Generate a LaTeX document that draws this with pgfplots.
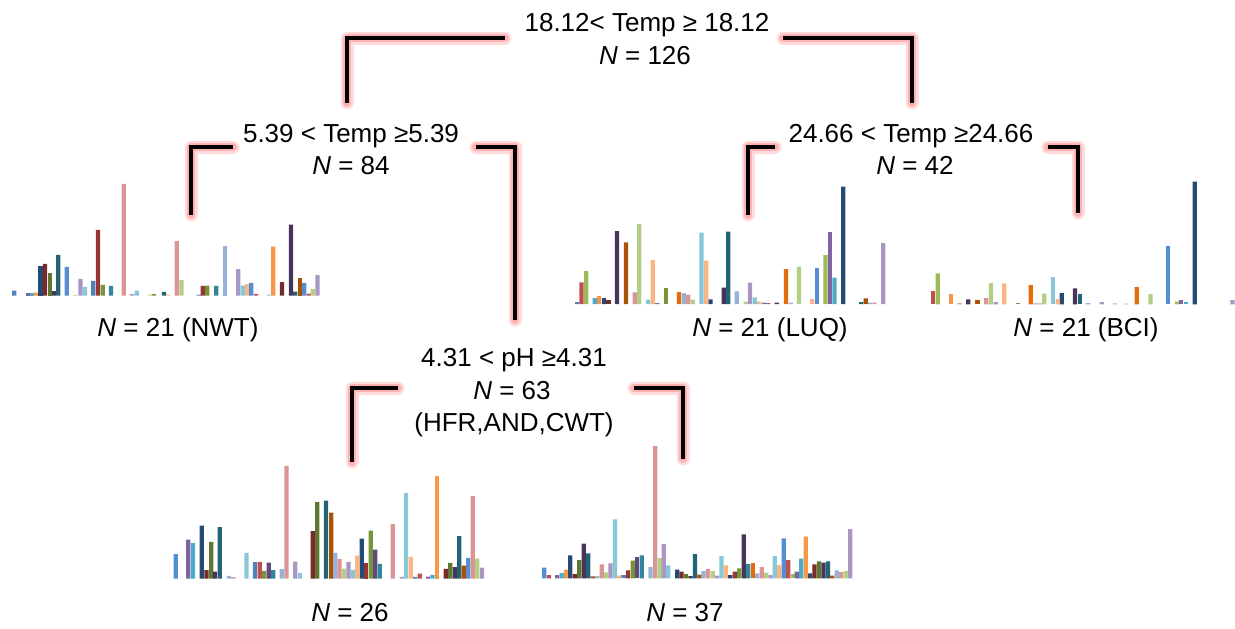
\documentclass[border=0pt]{standalone}
\usepackage{fontspec}
\setmainfont{Liberation Sans}
\usepackage{pgfplots}
\usepackage{pgfplotstable}
\pgfplotsset{compat=1.18}

% bar colours (Excel-like series palette)
\definecolor{c1}{HTML}{4F81BD}
\definecolor{c2}{HTML}{C0504D}
\definecolor{c3}{HTML}{9BBB59}
\definecolor{c4}{HTML}{8064A2}
\definecolor{c5}{HTML}{4BACC6}
\definecolor{c6}{HTML}{F79646}
\definecolor{c7}{HTML}{254A75}
\definecolor{c8}{HTML}{772C2A}
\definecolor{c9}{HTML}{5F7530}
\definecolor{c10}{HTML}{453659}
\definecolor{c11}{HTML}{246275}
\definecolor{c12}{HTML}{A85208}
\definecolor{c13}{HTML}{95B3D7}
\definecolor{c14}{HTML}{D99694}
\definecolor{c15}{HTML}{B5CE85}
\definecolor{c16}{HTML}{A996C2}
\definecolor{c17}{HTML}{86C7DA}
\definecolor{c18}{HTML}{FAB580}
\definecolor{c19}{HTML}{558ED5}
\definecolor{c20}{HTML}{953735}
\definecolor{c21}{HTML}{77933C}
\definecolor{c22}{HTML}{604A7B}
\definecolor{c23}{HTML}{31859C}
\definecolor{c24}{HTML}{E46C0A}

% x = bar centre (image px), h = bar height (px), c = colour class
\pgfplotstableread{
x h c
14.3 5 1
27.7 3 4
31.7 3 5
35.7 3 6
40.5 30 7
45 31.7 8
49.7 22.3 9
54 4.3 10
58.3 40.7 11
66.8 28.7 19
75.5 0.7 15
80.5 16.7 16
85 8.7 17
93.3 14.7 1
98 65.7 20
102.7 10.7 21
111 9.7 23
123.7 111.7 14
132 1.3 16
136.7 5 17
150 1 15
154 1.3 21
164 3.7 11
168.3 1 18
176.8 54.3 14
181.5 15.7 15
198.7 1 1
202.8 9.7 20
207.3 10 21
216.2 9.7 23
225.3 49.3 13
238.3 26.3 16
242.8 10 17
247 11.3 18
251.3 12.7 19
256 1.7 2
268.7 1 17
273.3 49 6
282 13.3 8
291 71 10
295.3 4 11
299.7 17.7 12
304.3 12.7 19
308.7 2 2
312.8 6.7 15
317.5 20.3 16
}\leafA

\pgfplotstableread{
x h c
577.2 2 1
581.5 21.7 2
586.2 33 3
594.7 6 5
599.2 7.7 6
604 6 7
608.5 4 8
617 73 10
626 61.7 12
634.8 11.7 14
639.3 80 15
648.2 4.3 17
652.7 44 18
657.2 1 1
666.2 16.3 21
679 12 24
683.7 11 13
688.3 9.3 14
692.8 4.3 15
701.5 71.3 17
706.2 43.3 18
710.5 4.7 7
723.7 16.3 10
728.2 72.3 11
736.8 12.7 13
745.7 2.3 15
750 21.3 16
754.7 6.7 17
759.3 2.3 18
764 1.3 1
768.3 1 2
776.7 1.3 10
786 35 24
790.7 1.3 13
799 37.3 15
812.2 5 18
816.8 36.3 19
825.5 49 3
830 71.7 4
834.5 26.3 5
843.3 117.3 7
861.2 2 11
865.7 5.7 12
870.2 1.3 13
874.5 1.3 14
883.3 61 16
}\leafB

\pgfplotstableread{
x h c
933 13.3 2
937.7 31 3
950.8 10.3 6
959.5 1.3 14
968.3 5 10
977.5 4.7 12
986.3 6.3 14
991 21.3 15
995.7 2.3 16
1004.3 21 18
1017.7 1 21
1030.8 19.3 24
1035.5 1 16
1039.8 1 14
1044.3 10.7 15
1053.2 27.7 17
1057.7 5.3 18
1061.8 11.3 7
1075 16 10
1080 10 11
1088 1.3 13
1101.7 2.3 16
1115 1 13
1126 0.7 16
1136.8 17.3 24
1150.5 10.3 15
1168.2 58.7 19
1177 2.7 3
1181.3 4 4
1186 2.7 5
1194.8 122.7 7
1232.5 4.3 16
}\leafC

\pgfplotstableread{
x h c
175.7 24.3 19
188.3 39 4
193 35.3 5
201.8 53 7
206.5 8.3 8
211.2 36.7 9
215 7 10
219.7 51.3 11
228.7 2.7 13
233.3 1.3 14
246.5 25.7 17
255 16.3 1
259.7 16.7 2
264.2 7.7 21
268.7 16 22
273.2 8.3 23
281.7 9.3 13
286.5 112.7 14
295.3 17 16
300 5.3 17
312.7 47.3 8
317.3 76.3 9
326 78 11
331.2 66 12
335.3 25.7 13
339.5 19.3 14
344 10 15
348.5 16.7 16
352.8 8.7 17
357.2 23 18
361.7 40 7
366.2 15.7 20
370.7 48 21
375.3 29 22
379.8 14.7 23
392.8 54.3 14
401.8 1.7 16
406 85.3 17
410.7 21.7 18
415.2 1.7 1
419.7 5 2
428.2 2 4
432.5 3.7 5
437.3 102.3 6
445.7 9.7 8
450.3 15.7 9
454.8 11.3 10
459.3 42.3 11
463.8 13 12
468.2 20.7 19
472.7 82.3 14
477.3 20 15
482 11 16
}\leafD

\pgfplotstableread{
x h c
544.2 10.7 19
548.8 3.3 2
557.2 3.3 4
561.7 5.3 5
566 8.7 6
570.3 23 7
574.8 4.3 8
579.2 18.3 9
583.7 34.7 10
588.3 25 11
592.8 2 12
597.2 2.3 13
601.7 14 14
606.2 6 15
610.5 15 16
615 59 17
619.3 2.7 18
623.5 3.3 1
628 8 20
632.7 17.7 21
637.2 21 22
641.7 23 23
650.5 11.3 13
655.2 132.3 14
659.7 20.3 15
663.8 34.3 16
668.2 13 17
677.2 8.7 7
681.5 6.7 8
686 4.3 9
690.5 2.3 10
695 24.3 11
699.4 3.7 12
703.5 7.3 13
708 9.3 14
712.7 7.3 15
717.2 2.7 16
721.5 22.3 17
725.8 13 18
730.2 3.3 7
734.7 6.7 20
739.2 10 21
743.7 44 10
748.2 14.3 23
752.7 15.3 24
757.2 5 13
761.7 11.3 14
766.2 5.7 15
770.5 3.3 16
774.8 22.3 17
779.2 13.3 18
783.7 40 19
788.3 18.3 2
792.7 4.3 3
796.8 6.7 4
801.2 19.7 5
805.8 41.7 6
810.3 5 7
814.5 14 8
819 17 9
823.5 15.7 10
828 17 11
832.3 2.7 12
836.7 8 13
841.2 6.3 14
845.7 7.3 15
850.2 49.3 16
}\leafE

\pgfplotsset{
  leaf/.style={scale only axis, hide axis, clip=false, anchor=south west,
    ymin=0, ymax=140, height=70pt},
}
\tikzset{
  lab/.style={font=\fontsize{13}{16}\selectfont, anchor=base, inner sep=0pt},
}

% one ybar plot per colour class
\newcommand\leafbars[1]{%
  \pgfplotsinvokeforeach{1,2,...,24}{%
    \addplot[ybar, bar width=4.3, bar shift=0pt, draw=none, fill=c##1,
      restrict expr to domain={\thisrow{c}}{##1:##1}]
      table[x=x, y=h] {#1};
  }%
}

% tree branch: red glow + black line
\newcommand\branch[1]{%
  \addplot[red!40, opacity=0.35, line width=6.5pt, line cap=round, line join=round] coordinates {#1};
  \addplot[red!60, opacity=0.35, line width=4pt, line cap=round, line join=round] coordinates {#1};
  \addplot[black, line width=2pt, line join=miter] coordinates {#1};
}

\begin{document}
\begin{tikzpicture}

\begin{axis}[
    scale only axis,
    width=617.5pt, height=314pt,
    xmin=0, xmax=1235, ymin=0, ymax=628,
    y dir=reverse,
    hide axis, clip=false, no marks
]
\addplot[draw=none] coordinates {(0,0) (1235,628)};

\branch{(505,38) (347,38) (347,103)}
\branch{(783,38) (912,38) (912,103)}
\branch{(233,147) (191,147) (191,215)}
\branch{(476,147) (515,147) (515,320)}
\branch{(775,147) (748,147) (748,215)}
\branch{(1048,147) (1078,147) (1078,213)}
\branch{(398,388) (352,388) (352,462)}
\branch{(634,388) (683,388) (683,459)}

\node[lab] at (axis cs:647,31) {18.12< Temp ≥ 18.12};
\node[lab] at (axis cs:645,64) {\textit{N} = 126};
\node[lab] at (axis cs:351,142) {5.39 < Temp ≥5.39};
\node[lab] at (axis cs:351,174) {\textit{N} = 84};
\node[lab] at (axis cs:911,142) {24.66 < Temp ≥24.66};
\node[lab] at (axis cs:915,174) {\textit{N} = 42};
\node[lab] at (axis cs:178,336) {\textit{N} = 21 (NWT)};
\node[lab] at (axis cs:770,336) {\textit{N} = 21 (LUQ)};
\node[lab] at (axis cs:1086,336) {\textit{N} = 21 (BCI)};
\node[lab] at (axis cs:514,366) {4.31 < pH ≥4.31};
\node[lab] at (axis cs:512,399) {\textit{N} = 63};
\node[lab] at (axis cs:514,431) {(HFR,AND,CWT)};
\node[lab] at (axis cs:350,621) {\textit{N} = 26};
\node[lab] at (axis cs:685,621) {\textit{N} = 37};
\end{axis}

% leaf bar charts (x in image px, y in px above the baseline)
\begin{axis}[leaf, at={(2.5pt,166.25pt)}, width=160pt, xmin=5, xmax=325]
\leafbars{\leafA}
\end{axis}
\begin{axis}[leaf, at={(285pt,162pt)}, width=162.5pt, xmin=570, xmax=895]
\leafbars{\leafB}
\end{axis}
\begin{axis}[leaf, at={(460pt,161.85pt)}, width=157.5pt, xmin=920, xmax=1235]
\leafbars{\leafC}
\end{axis}
\begin{axis}[leaf, at={(82.5pt,24.75pt)}, width=162.5pt, xmin=165, xmax=490]
\leafbars{\leafD}
\end{axis}
\begin{axis}[leaf, at={(267.5pt,24.85pt)}, width=162.5pt, xmin=535, xmax=860]
\leafbars{\leafE}
\end{axis}

\end{tikzpicture}
\end{document}
